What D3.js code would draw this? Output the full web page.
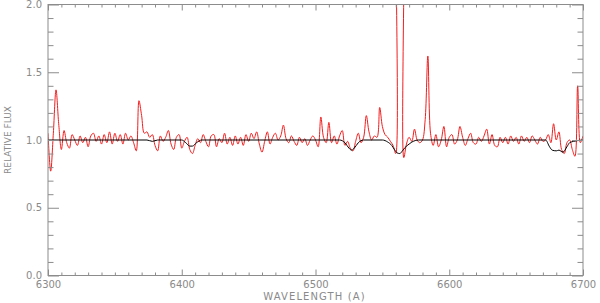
<!DOCTYPE html>
<html>
  <head>
    <title>Relative flux spectrum</title>
    <script src="https://d3js.org/d3.v7.min.js"></script>
    <style>
      body { margin: 0; background: #fff; }
      .axis text {
        font-family: "DejaVu Sans", sans-serif;
        font-size: 10px;
        fill: #8a8a8a;
      }
      .axis line { stroke: #8c8c8c; }
      .axis path { display: none; }
      .axis__label {
        font-family: "DejaVu Sans", sans-serif;
        fill: #8a8a8a;
      }
    </style>
  </head>
  <body>
    <svg width="600" height="303"></svg>
    <script>
      // observed spectrum, sampled every 2 A from 6300 to 6700
      const obsStart = 6300;
      const obsStep = 2;
      const obsFlux = [
        1.05, 0.77, 1.05, 1.37, 1.12, 0.93, 1.07, 0.98, 0.94, 1.04,
        1.00, 0.96, 1.03, 0.98, 1.02, 0.95, 1.03, 1.05, 0.99, 1.03,
        0.97, 1.04, 0.98, 1.06, 0.97, 1.05, 0.99, 1.04, 0.97, 1.05,
        1.00, 1.03, 0.98, 0.92, 1.29, 1.18, 1.05, 1.06, 1.02, 1.04,
        0.96, 0.92, 1.03, 0.99, 1.02, 1.07, 0.97, 0.93, 1.02, 1.04,
        0.94, 0.99, 1.02, 0.93, 0.90, 0.96, 1.01, 0.98, 1.04, 0.99,
        0.95, 1.03, 1.04, 0.95, 1.01, 0.98, 1.05, 0.97, 1.02, 0.96,
        1.03, 0.97, 1.02, 0.96, 1.04, 0.99, 1.05, 1.01, 1.06, 0.97,
        0.91, 0.99, 1.06, 0.97, 1.02, 1.05, 1.00, 1.03, 1.11, 1.01,
        0.98, 1.03, 0.99, 0.96, 1.02, 0.98, 1.01, 0.96, 1.00, 1.03,
        1.00, 0.95, 1.17, 1.02, 0.98, 1.13, 0.98, 1.03, 0.97, 1.03,
        1.07, 0.96, 0.99, 0.94, 0.92, 0.99, 1.05, 0.98, 1.02, 1.18,
        1.06, 1.00, 1.03, 1.02, 1.24, 1.10, 1.04, 1.02, 0.99, 0.96,
        0.90, 5.00, 5.00, 0.87, 0.97, 1.02, 0.99, 1.08, 1.00, 0.98,
        1.00, 1.15, 1.62, 1.05, 0.96, 1.04, 0.95, 1.00, 1.10, 0.95,
        1.02, 1.04, 0.97, 1.00, 1.10, 1.02, 0.96, 1.01, 1.05, 0.98,
        0.97, 1.02, 0.99, 1.03, 1.08, 0.97, 1.04, 0.96, 0.95, 1.02,
        0.98, 1.02, 0.97, 1.03, 0.99, 1.02, 0.97, 1.03, 0.99, 1.02,
        0.98, 1.03, 1.00, 0.97, 1.02, 0.99, 1.00, 1.04, 0.98, 1.12,
        1.00, 1.06, 0.93, 0.90, 0.98, 1.00, 0.93, 0.88, 1.40, 0.98,
        1.03
      ];

      // model continuum with absorption lines
      const modelWave = [6300, 6374, 6378, 6382, 6400, 6403, 6406, 6408, 6411, 6415,
        6518, 6522, 6525, 6527, 6529, 6532, 6536,
        6550, 6554, 6557, 6559, 6561, 6563, 6565, 6567, 6570, 6573, 6577,
        6672, 6675, 6677, 6680, 6682, 6685, 6688, 6690, 6693, 6700];
      const modelFlux = [1.0, 1.0, 0.99, 1.0, 1.0, 0.98, 0.955, 0.955, 0.98, 1.0,
        1.0, 0.98, 0.94, 0.925, 0.94, 0.98, 1.0,
        1.0, 0.985, 0.96, 0.93, 0.905, 0.9, 0.92, 0.945, 0.97, 0.99, 1.0,
        1.0, 0.95, 0.925, 0.92, 0.925, 0.91, 0.95, 0.98, 0.99, 1.0];

      const xMajor = [6300, 6400, 6500, 6600, 6700];
      const yMajor = [0.0, 0.5, 1.0, 1.5, 2.0];

      const svg = d3.select("svg");
      const margin = { top: 4.5, right: 17, bottom: 27.5, left: 48 };
      const width = +svg.attr("width") - margin.left - margin.right;
      const height = +svg.attr("height") - margin.top - margin.bottom;

      const x = d3.scaleLinear().domain([6300, 6700]).range([0, width]);
      const y = d3.scaleLinear().domain([0, 2]).range([height, 0]);

      const g = svg.append("g")
        .attr("transform", `translate(${margin.left}, ${margin.top})`);

      g.append("clipPath")
          .attr("id", "plot-clip")
        .append("rect")
          .attr("width", width)
          .attr("height", height);

      const obs = obsFlux.map((f, i) => [obsStart + i * obsStep, f]);
      const model = modelWave.map((w, i) => [w, modelFlux[i]]);

      const obsLine = d3.line()
        .curve(d3.curveCatmullRom.alpha(0.5))
        .x(d => x(d[0]))
        .y(d => y(d[1]));

      const modelLine = d3.line()
        .curve(d3.curveMonotoneX)
        .x(d => x(d[0]))
        .y(d => y(d[1]));

      g.append("path")
        .datum(obs)
        .attr("clip-path", "url(#plot-clip)")
        .attr("fill", "none")
        .attr("stroke", "#f01e1e")
        .attr("stroke-width", 1)
        .attr("d", obsLine);

      g.append("path")
        .datum(model)
        .attr("fill", "none")
        .attr("stroke", "#000")
        .attr("stroke-width", 1)
        .attr("d", modelLine);

      const xMinor = d3.range(6300, 6701, 10).filter(v => v % 100 !== 0);
      const yMinor = d3.range(0, 21).map(v => v / 10).filter(v => Math.round(v * 10) % 5 !== 0);

      // bottom
      g.append("g")
        .attr("class", "axis")
        .attr("transform", `translate(0, ${height})`)
        .call(d3.axisBottom(x).tickValues(xMajor).tickSize(-6).tickSizeOuter(0).tickPadding(5).tickFormat(d3.format("d")));
      g.append("g")
        .attr("class", "axis")
        .attr("transform", `translate(0, ${height})`)
        .call(d3.axisBottom(x).tickValues(xMinor).tickSize(-3).tickSizeOuter(0).tickFormat(""));
      // top
      g.append("g")
        .attr("class", "axis")
        .call(d3.axisTop(x).tickValues(xMajor).tickSize(-6).tickSizeOuter(0).tickFormat(""));
      g.append("g")
        .attr("class", "axis")
        .call(d3.axisTop(x).tickValues(xMinor).tickSize(-3).tickSizeOuter(0).tickFormat(""));
      // left
      g.append("g")
        .attr("class", "axis")
        .call(d3.axisLeft(y).tickValues(yMajor).tickSize(-11).tickSizeOuter(0).tickPadding(6).tickFormat(d3.format(".1f")));
      g.append("g")
        .attr("class", "axis")
        .call(d3.axisLeft(y).tickValues(yMinor).tickSize(-5.5).tickSizeOuter(0).tickFormat(""));
      // right
      g.append("g")
        .attr("class", "axis")
        .attr("transform", `translate(${width}, 0)`)
        .call(d3.axisRight(y).tickValues(yMajor).tickSize(-11).tickSizeOuter(0).tickFormat(""));
      g.append("g")
        .attr("class", "axis")
        .attr("transform", `translate(${width}, 0)`)
        .call(d3.axisRight(y).tickValues(yMinor).tickSize(-5.5).tickSizeOuter(0).tickFormat(""));

      g.append("rect")
        .attr("width", width)
        .attr("height", height)
        .attr("fill", "none")
        .attr("stroke", "#8c8c8c")
        .attr("stroke-width", 1);

      g.append("text")
        .attr("class", "axis__label")
        .attr("x", width / 2 - 1)
        .attr("y", height + 24)
        .attr("text-anchor", "middle")
        .attr("font-size", "10px")
        .attr("letter-spacing", "1.1px")
        .text("WAVELENGTH (A)");

      g.append("text")
        .attr("class", "axis__label")
        .attr("transform", `translate(${-37}, ${y(1)}) rotate(-90)`)
        .attr("text-anchor", "middle")
        .attr("font-size", "9px")
        .text("RELATIVE FLUX");
    </script>
  </body>
</html>
